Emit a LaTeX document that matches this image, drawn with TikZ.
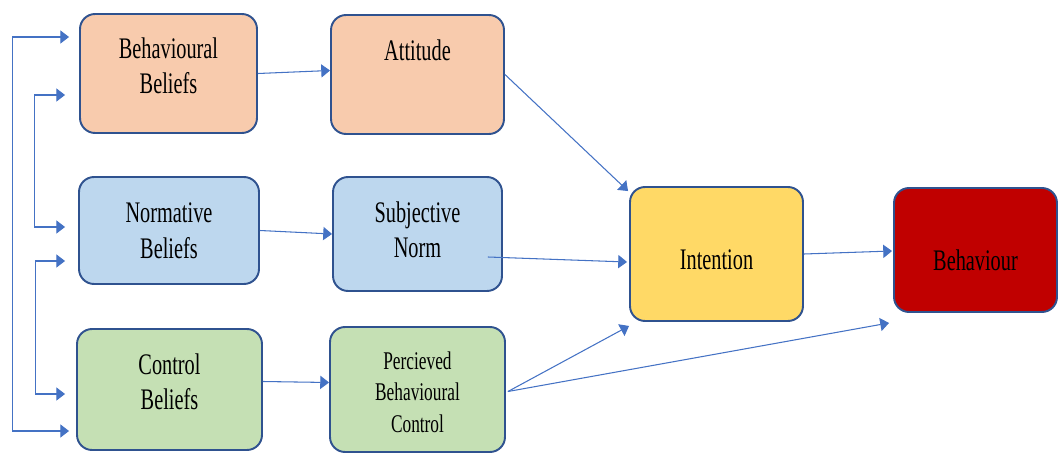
\documentclass[tikz,border=0pt]{standalone}
\usepackage{fontspec}
\setmainfont{Liberation Serif}[FakeStretch=0.68]
\usepackage{tikz}
\usetikzlibrary{
    arrows.meta,
    calc,
    positioning
}
\definecolor{boxline}{HTML}{2F528F}
\definecolor{connline}{HTML}{4472C4}
\definecolor{bbfill}{HTML}{F8CBAD}
\definecolor{nbfill}{HTML}{BDD7EE}
\definecolor{cbfill}{HTML}{C5E0B4}
\definecolor{intfill}{HTML}{FFD966}
\definecolor{behfill}{HTML}{C00000}
\tikzset{
    box/.style={draw=boxline, line width=1.1pt, rounded corners=0.3cm, align=center,
        font=\fontsize{17}{20.4}\selectfont, inner sep=2pt},
    conn/.style={draw=connline, line width=0.6pt, -{Triangle[length=5pt,width=7.5pt]}},
    twoway/.style={conn, {Triangle[length=5pt,width=7.5pt]}-{Triangle[length=5pt,width=7.5pt]}}
}

\begin{document}
\begin{tikzpicture}[x=0.02cm, y=-0.02cm]
    \useasboundingbox (0,0) rectangle (1059,453);
    \node[box, fill=bbfill, minimum width=3.54cm, minimum height=2.38cm, text depth=9pt] (bb) at (168.5,73.5) {Behavioural\\Beliefs};
    \node[box, fill=bbfill, minimum width=3.46cm, minimum height=2.38cm, text depth=28pt] (att) at (417.5,74.5) {Attitude};
    \node[box, fill=nbfill, minimum width=3.60cm, minimum height=2.14cm] (nb) at (169,230.5) {Normative\\Beliefs};
    \node[box, fill=nbfill, minimum width=3.38cm, minimum height=2.28cm, text depth=5pt] (sn) at (417.5,234) {Subjective\\Norm};
    \node[box, fill=cbfill, minimum width=3.70cm, minimum height=2.42cm, text depth=9pt] (cb) at (169.5,389.5) {Control\\Beliefs};
    \node[box, fill=cbfill, minimum width=3.50cm, minimum height=2.50cm, text height=49pt,
        font=\fontsize{14.5}{18}\selectfont] (pbc) at (417.5,389.5) {Percieved\\Behavioural\\Control};
    \node[box, fill=intfill, minimum width=3.46cm, minimum height=2.68cm, text height=18pt] (int) at (716.5,254) {Intention};
    \node[box, fill=behfill, minimum width=3.26cm, minimum height=2.48cm, text height=24pt] (beh) at (975.5,250) {Behaviour};

    \draw[conn] (bb.east) -- ($(att.west)+(0,-4)$);
    \draw[conn] (nb.east) -- (sn.west);
    \draw[conn] ($(cb.east)+(0,-8)$) -- ($(pbc.west)+(0,-7)$);
    \draw[conn] (att.east) -- ($(int.north west)+(-1,5)$);
    \draw[conn] ($(sn.east)+(-15,23)$) -- ($(int.west)+(-2,8)$);
    \draw[conn] ($(pbc.east)+(2,2)$) -- ($(int.south west)+(0,4)$);
    \draw[conn] ($(pbc.east)+(2,2)$) -- ($(beh.south west)+(-4,10)$);
    \draw[conn] (int.east) -- ($(beh.west)+(-1,1)$);

    \draw[twoway] ($(bb.west)+(-10,-36.5)$) -- ++(-57,0) |- ($(cb.west)+(-7,41.5)$);
    \draw[twoway] ($(bb.west)+(-14,21.5)$) -- ++(-31,0) |- ($(nb.west)+(-13,-3.5)$);
    \draw[twoway] ($(nb.west)+(-13,30.5)$) -- ++(-30,0) |- ($(cb.west)+(-11,4.5)$);
\end{tikzpicture}
\end{document}
